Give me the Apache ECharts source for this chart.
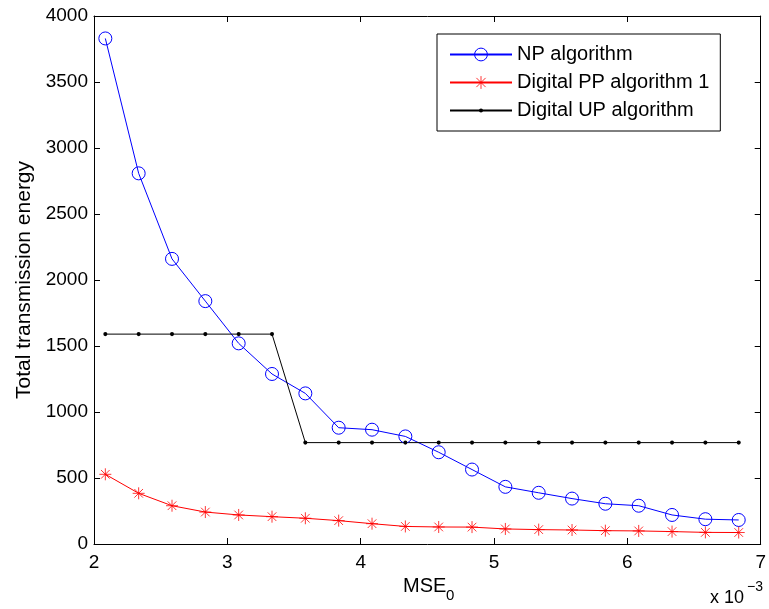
<!DOCTYPE html>
<html>
<head>
<meta charset="utf-8">
<title>Total transmission energy vs MSE0</title>
<script src="https://cdn.jsdelivr.net/npm/echarts@6/dist/echarts.min.js"></script>
<style>
  html, body { margin: 0; padding: 0; background: #fff; }
  #chart { width: 769px; height: 609px; }
</style>
</head>
<body>
<div id="chart"></div>
<script>
// MSE0 values (in units of 1e-3)
const mseValues = [2.085, 2.335, 2.585, 2.835, 3.085, 3.335, 3.585, 3.835, 4.085, 4.335,
                   4.585, 4.835, 5.085, 5.335, 5.585, 5.835, 6.085, 6.335, 6.585, 6.835];

// Total transmission energy per algorithm
const npEnergy = [3830, 2808, 2160, 1840, 1520, 1288, 1141, 881, 866, 815,
                  695, 564, 433, 388, 344, 305, 290, 220, 188, 182];
const ppEnergy = [528, 384, 290, 242, 220, 207, 195, 177, 154, 133,
                  129, 128, 114, 109, 106, 101, 99, 94, 88, 87];
const upEnergy = [1590, 1590, 1590, 1590, 1590, 1590, 768, 768, 768, 768,
                  768, 768, 768, 768, 768, 768, 768, 768, 768, 768];

const seriesNames = ['NP algorithm', 'Digital PP algorithm 1', 'Digital UP algorithm'];
const xTicks = { min: 2, max: 7, step: 1 };
const yTicks = { min: 0, max: 4000, step: 500 };

const FONT = 'Liberation Sans, Arial, Helvetica, sans-serif';
// open ring marker
const ring = 'path://M1,0A1,1,0,1,1,-1,0A1,1,0,1,1,1,0Z';
// eight-armed star marker
const asterisk = 'path://M0,-1L0,1M-1,0L1,0M-0.72,-0.72L0.72,0.72M-0.72,0.72L0.72,-0.72';
// small dot inside a larger (empty) box so the legend icon stays small too
const dot = 'path://M-3.2,-3.2M3.2,3.2M1,0A1,1,0,1,1,-1,0A1,1,0,1,1,1,0Z';

const pairs = ys => mseValues.map((x, i) => [x, ys[i]]);

const chart = echarts.init(document.getElementById('chart'), null, { renderer: 'canvas' });

const frameAxis = {
  axisLine: { show: true, onZero: false, lineStyle: { color: '#000', width: 1 } },
  axisTick: { show: true, inside: true, length: 6, lineStyle: { color: '#000', width: 1 } },
  splitLine: { show: false }
};

chart.setOption({
  backgroundColor: '#fff',
  animation: false,
  textStyle: { fontFamily: FONT, color: '#000' },
  grid: { left: 94, right: 5, top: 16, bottom: 65, containLabel: false },
  xAxis: [
    Object.assign({
      type: 'value', position: 'bottom',
      min: xTicks.min, max: xTicks.max, interval: xTicks.step,
      axisLabel: { color: '#000', fontSize: 19, fontFamily: FONT, margin: 9 }
    }, frameAxis),
    Object.assign({
      type: 'value', position: 'top',
      min: xTicks.min, max: xTicks.max, interval: xTicks.step,
      axisLabel: { show: false }
    }, frameAxis)
  ],
  yAxis: [
    Object.assign({
      type: 'value', position: 'left',
      min: yTicks.min, max: yTicks.max, interval: yTicks.step,
      name: 'Total transmission energy',
      nameLocation: 'middle', nameGap: 59, nameRotate: 90,
      nameTextStyle: { color: '#000', fontSize: 21, fontFamily: FONT },
      axisLabel: { color: '#000', fontSize: 19, fontFamily: FONT, margin: 6,
                   formatter: v => String(v) }
    }, frameAxis),
    Object.assign({
      type: 'value', position: 'right',
      min: yTicks.min, max: yTicks.max, interval: yTicks.step,
      axisLabel: { show: false }
    }, frameAxis)
  ],
  legend: {
    orient: 'vertical',
    left: 437, top: 34,
    padding: [10, 11, 10, 12],
    itemWidth: 62, itemHeight: 16, itemGap: 7,
    borderColor: '#000', borderWidth: 1, borderRadius: 0,
    backgroundColor: '#fff',
    textStyle: { color: '#000', fontSize: 20, fontFamily: FONT, lineHeight: 21 },
    data: [
      { name: seriesNames[0], itemStyle: { borderWidth: 1 } },
      { name: seriesNames[1], itemStyle: { borderWidth: 0.8 } },
      { name: seriesNames[2] }
    ]
  },
  series: [
    {
      name: seriesNames[0], type: 'line', data: pairs(npEnergy),
      symbol: ring, symbolSize: 13, showAllSymbol: true,
      lineStyle: { color: '#0000ff', width: 1 },
      itemStyle: { color: 'rgba(255,255,255,0)', borderColor: '#0000ff', borderWidth: 1 }
    },
    {
      name: seriesNames[1], type: 'line', data: pairs(ppEnergy),
      symbol: asterisk, symbolSize: 12, showAllSymbol: true,
      lineStyle: { color: '#ff0000', width: 1 },
      itemStyle: { color: '#ff0000', borderColor: '#ff0000', borderWidth: 0.8 }
    },
    {
      name: seriesNames[2], type: 'line', data: pairs(upEnergy),
      symbol: dot, symbolSize: 13, showAllSymbol: true,
      lineStyle: { color: '#000', width: 1 },
      itemStyle: { color: '#000', borderWidth: 0 }
    }
  ],
  graphic: [
    { type: 'text', left: 403, top: 576, style: { text: 'MSE', font: '20px ' + FONT, fill: '#000' } },
    { type: 'text', left: 446, top: 588, style: { text: '0', font: '15px ' + FONT, fill: '#000' } },
    { type: 'text', left: 710, top: 589, style: { text: 'x 10', font: '18px ' + FONT, fill: '#000' } },
    { type: 'text', left: 747, top: 580, style: { text: '\u22123', font: '14px ' + FONT, fill: '#000' } }
  ]
});
</script>
</body>
</html>
